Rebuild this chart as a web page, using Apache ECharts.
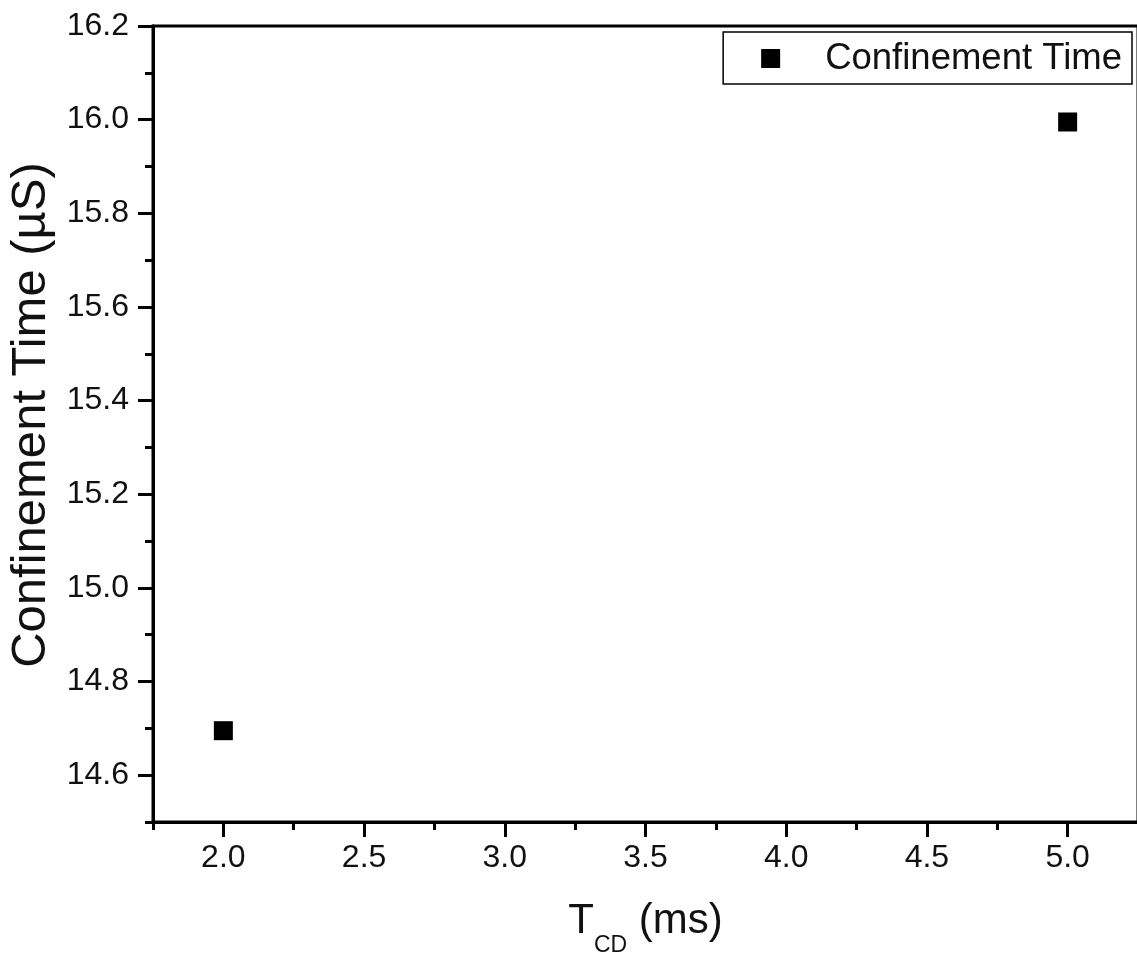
<!DOCTYPE html>
<html>
<head>
<meta charset="utf-8">
<script src="https://cdn.jsdelivr.net/npm/echarts@6/dist/echarts.min.js"></script>
<style>
html,body{margin:0;padding:0;background:#fff;}
#chart{width:1137px;height:953px;}
</style>
</head>
<body>
<div id="chart"></div>
<script>
var tcd = [2.0, 5.0];
var confinementTime = [14.695, 15.995];
var seriesName = 'Confinement Time';
var xMajorTicks = [2.0, 2.5, 3.0, 3.5, 4.0, 4.5, 5.0];
var yMajorTicks = [14.6, 14.8, 15.0, 15.2, 15.4, 15.6, 15.8, 16.0, 16.2];
var xTitle = '{a|T}{b|CD}{a| (ms)}';
var yTitle = 'Confinement Time (µS)';

var points = tcd.map(function (x, i) { return [x, confinementTime[i]]; });
var FONT = '"Liberation Sans", Arial, sans-serif';
var INK = '#111';
var AXIS_LINE = {show: true, onZero: false, lineStyle: {color: '#000', width: 3}};

var chart = echarts.init(document.getElementById('chart'), null, {renderer: 'canvas'});
chart.setOption({
  backgroundColor: '#fff',
  animation: false,
  textStyle: {fontFamily: FONT},
  grid: {
    left: 153, top: 26, right: -1, bottom: 131,
    containLabel: false,
    outerBoundsMode: 'none',
    show: true, borderColor: '#000', borderWidth: 3, backgroundColor: 'transparent'
  },
  legend: {
    data: [seriesName],
    right: 5, top: 32,
    orient: 'horizontal',
    icon: 'rect',
    itemWidth: 19, itemHeight: 19,
    itemGap: 10,
    padding: [8, 10, 7, 38],
    borderColor: '#000', borderWidth: 1.5,
    backgroundColor: '#fff',
    textStyle: {fontSize: 36.5, color: INK, fontFamily: FONT, padding: [0, 0, 0, 40]}
  },
  xAxis: [{
    type: 'value', min: 1.75, max: 5.25, interval: 0.25,
    position: 'bottom',
    axisLine: AXIS_LINE,
    axisTick: {show: true, inside: false, length: 8, lineStyle: {color: '#000', width: 3}},
    axisLabel: {show: false},
    splitLine: {show: false}
  }, {
    type: 'value', min: 1.75, max: 5.25,
    position: 'bottom',
    axisLine: AXIS_LINE,
    axisTick: {show: true, inside: false, length: 15, customValues: xMajorTicks,
      lineStyle: {color: '#000', width: 3}},
    axisLabel: {show: true, customValues: xMajorTicks, margin: 20, fontSize: 32, color: INK,
      fontFamily: FONT, formatter: function (v) { return v.toFixed(1); }},
    splitLine: {show: false},
    name: xTitle,
    nameLocation: 'middle',
    nameGap: 78,
    nameTextStyle: {
      color: INK, fontFamily: FONT,
      rich: {
        a: {fontSize: 42, color: INK, fontFamily: FONT, verticalAlign: 'top'},
        b: {fontSize: 23, color: INK, fontFamily: FONT, verticalAlign: 'top', padding: [34, 0, 0, 0]}
      }
    }
  }],
  yAxis: [{
    type: 'value', min: 14.5, max: 16.2, interval: 0.1,
    position: 'left',
    axisLine: AXIS_LINE,
    axisTick: {show: true, inside: false, length: 8, lineStyle: {color: '#000', width: 3}},
    axisLabel: {show: false},
    splitLine: {show: false}
  }, {
    type: 'value', min: 14.5, max: 16.2,
    position: 'left',
    axisLine: AXIS_LINE,
    axisTick: {show: true, inside: false, length: 15, customValues: yMajorTicks,
      lineStyle: {color: '#000', width: 3}},
    axisLabel: {show: true, customValues: yMajorTicks, margin: 24, fontSize: 32, color: INK,
      fontFamily: FONT, formatter: function (v) { return v.toFixed(1); }},
    splitLine: {show: false},
    name: yTitle,
    nameLocation: 'middle',
    nameGap: 90,
    nameTextStyle: {fontSize: 49, color: INK, fontFamily: FONT, padding: [0, 0, 0, 18]}
  }],
  series: [{
    name: seriesName,
    type: 'scatter',
    xAxisIndex: 0, yAxisIndex: 0,
    symbol: 'rect',
    symbolSize: 19,
    itemStyle: {color: '#000', opacity: 1},
    data: points
  }]
});
</script>
</body>
</html>
